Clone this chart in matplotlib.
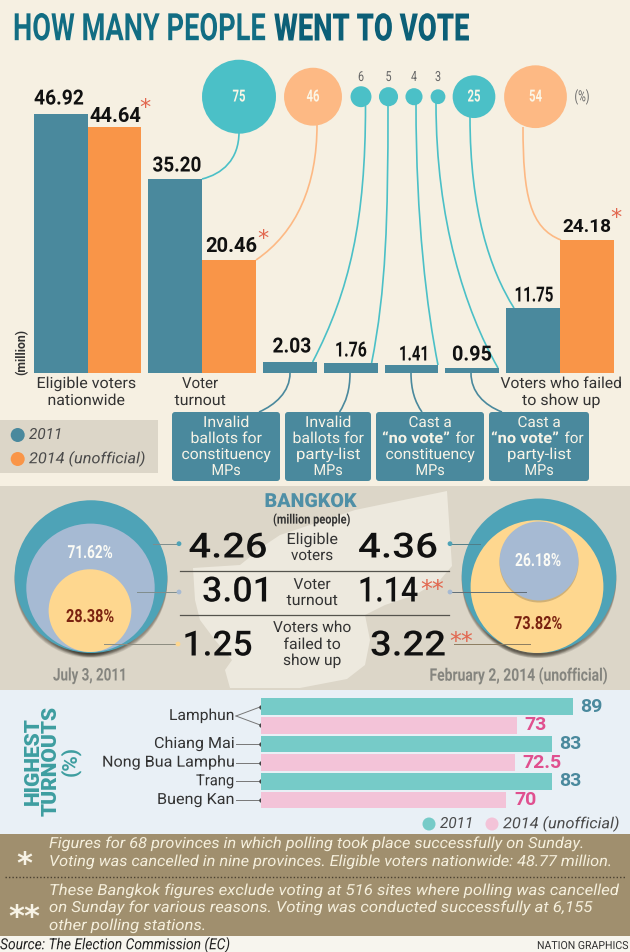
import matplotlib
matplotlib.use('Agg')
import matplotlib.pyplot as plt
import numpy as np
from matplotlib.patches import Circle, Rectangle, PathPatch, Polygon, FancyBboxPatch
from matplotlib.path import Path
from matplotlib.patheffects import AbstractPathEffect
from matplotlib.transforms import Affine2D

# DATA
bar_groups = ['Eligible voters\nnationwide', 'Voter\nturnout', 'inv_c', 'inv_p', 'no_c', 'no_p',
              'Voters who failed\nto show up']
votes_2011 = [46.92, 35.20, 2.03, 1.76, 1.41, 0.95, 11.75]
votes_2014 = [44.64, 20.46, None, None, None, None, 24.18]
box_labels = ['Invalid\nballots for\nconstituency\nMPs', 'Invalid\nballots for\nparty-list\nMPs',
              'Cast a\n\u201cno vote\u201d for\nconstituency\nMPs', 'Cast a\n\u201cno vote\u201d for\nparty-list\nMPs']
bubble_pct = [75, 46, 6, 5, 4, 3, 25, 54]
bubble_year = [2011, 2014, 2011, 2011, 2011, 2011, 2011, 2014]

bkk_labels = ['Eligible\nvoters', 'Voter\nturnout', 'Voters who\nfailed to\nshow up']
bkk_2011 = [4.26, 3.01, 1.25]
bkk_2014 = [4.36, 1.14, 3.22]
bkk_pct_2011 = ['71.62%', '28.38%']
bkk_pct_2014 = ['26.18%', '73.82%']

provinces = ['Lamphun', 'Lamphun', 'Chiang Mai', 'Nong Bua Lamphu', 'Trang', 'Bueng Kan']
turnout = [89, 73, 83, 72.5, 83, 70]
turnout_labels = ['89', '73', '83', '72.5', '83', '70']
turnout_year = [2011, 2014, 2011, 2014, 2011, 2014]

note_1 = ['Figures for 68 provinces in which polling took place successfully on Sunday.',
          'Voting was cancelled in nine provinces. Eligible voters nationwide: 48.77 million.']
note_2 = ['These Bangkok figures exclude voting at 516 sites where polling was cancelled',
          'on Sunday for various reasons. Voting was conducted successfully at 6,155',
          'other polling stations.']

# COLOURS
TEAL = '#4a899d'
ORANGE = '#f99548'
B_TEAL = '#4bc0c7'
B_PEACH = '#fdb984'
RED = '#e2674f'
PX = 952

plt.rcParams['font.family'] = ['Roboto', 'DejaVu Sans']
fig = plt.figure(figsize=(6.3, 9.52), dpi=100, facecolor='#f6f0e2')
renderer = fig.canvas.get_renderer()


class Squeeze(AbstractPathEffect):
    # scales a text around its anchor, the fonts here have no condensed cut
    def __init__(self, sx, x0, sy=1, y0=0):
        super().__init__()
        self.sx = sx
        self.x0 = x0
        self.sy = sy
        self.y0 = y0

    def draw_path(self, renderer, gc, tpath, affine, rgbFace=None):
        affine = affine + Affine2D().translate(-self.x0, -self.y0).scale(self.sx, self.sy).translate(self.x0, self.y0)
        renderer.draw_path(gc, tpath, affine, rgbFace)


# pixel overlay for everything that is not a bar
ov = fig.add_axes([0, 0, 1, 1], zorder=1)
ov.set_xlim(0, 630)
ov.set_ylim(952, 0)
ov.axis('off')
ov.patch.set_alpha(0)


def txt(x, y, s, size, color='#222222', w=None, weight='normal', style='normal', ha='center', rot=0, sy=1, zorder=8):
    t = ov.text(x, y, s, fontsize=size, color=color, fontweight=weight, fontstyle=style,
                ha=ha, va='center', rotation=rot, zorder=zorder, linespacing=1.0)
    if w is not None:
        t.set_path_effects([Squeeze(w / t.get_window_extent(renderer).width, x, sy, PX - y)])
    return t


def star(x, y, s, size, color, weight='normal', zorder=9):
    # the asterisk sits high in its line, so move it down to centre the glyph on y
    return ov.text(x, y + 0.38 * size, s, fontsize=size, color=color, family='DejaVu Sans',
                   fontweight=weight, ha='center', va='center', zorder=zorder)


def curve(p0, c1, c2, p1, color, lw=1.2, zorder=3):
    path = Path([p0, c1, c2, p1], [Path.MOVETO, Path.CURVE4, Path.CURVE4, Path.CURVE4])
    ov.add_patch(PathPatch(path, fc='none', ec=color, lw=lw, zorder=zorder))


# section backgrounds
ov.add_patch(Rectangle((0, 486), 630, 204, fc='#dcd6c8', ec='none', zorder=0))
ov.add_patch(Rectangle((0, 690), 630, 144, fc='#e9f0f6', ec='none', zorder=0))
ov.add_patch(Rectangle((0, 834), 630, 102, fc='#a08f6e', ec='none', zorder=0))
ov.add_patch(Rectangle((0, 936), 630, 16, fc='#f7f5ee', ec='none', zorder=0))

# title, set small and stretched up to the tall condensed look
txt(13, 30, 'HOW MANY PEOPLE', 20, '#126d83', w=252, weight='bold', ha='left', sy=1.36)
txt(274, 30, 'WENT TO VOTE', 19.5, '#0c5f77', w=196, weight='black', ha='left', sy=1.4)

# main bars, 5.52 px per million
ax = fig.add_axes([0, 1 - 373 / PX, 1, 373 / PX], zorder=2)
ax.set_xlim(0, 630)
ax.set_ylim(0, 373 / 5.52)
ax.axis('off')
ax.patch.set_alpha(0)
bar_w = 53.8
gap = 7
left = 33.7
for i in range(len(bar_groups)):
    ax.bar(left + bar_w / 2, votes_2011[i], bar_w, color=TEAL)
    left += bar_w
    if votes_2014[i] is not None:
        ax.bar(left + bar_w / 2, votes_2014[i], bar_w, color=ORANGE)
        left += bar_w
    left += gap

# value labels
val_xy_2011 = [(59, 99), (177, 166), (292, 347), (351, 351), (414, 355), (472, 355), (534, 296)]
val_w_2011 = [50, 49, 39, 32, 30, 40, 39]
for v, (x, y), w in zip(votes_2011, val_xy_2011, val_w_2011):
    txt(x, y, f'{v:.2f}', 15, '#111111', weight='bold', w=w)
val_xy_2014 = {0: (115, 116), 1: (231, 247), 6: (587, 227)}
val_size_2014 = {0: 14.5, 1: 14.5, 6: 13.7}
star_xy = {0: (145, 102), 1: (263, 233), 6: (616, 212)}
for i, (x, y) in val_xy_2014.items():
    txt(x, y, f'{votes_2014[i]:.2f}', val_size_2014[i], '#111111', weight='bold')
    star(star_xy[i][0], star_xy[i][1], '*', 16, RED)

txt(22, 352, '(million)', 8.8, '#333333', weight='bold', rot=90)
txt(86, 384, 'Eligible voters', 11, '#333333', w=99)
txt(86, 401, 'nationwide', 11, '#333333', w=77)
txt(200, 384, 'Voter', 11, '#333333', w=36)
txt(200, 401, 'turnout', 11, '#333333', w=51)
txt(561, 384, 'Voters who failed', 11, '#333333', w=121)
txt(561, 401, 'to show up', 11, '#333333', w=78)

# percent bubbles, area follows the value
bubble_x = [239, 313, 361, 388.5, 414, 438, 474, 535.5]
for p, x, yr in zip(bubble_pct, bubble_x, bubble_year):
    r = 4.27 * np.sqrt(p)
    ov.add_patch(Circle((x, 96.7), r, fc=B_TEAL if yr == 2011 else B_PEACH, ec='none', zorder=4))
    if p > 10:
        txt(x, 97, str(p), 12, '#fbf6e6', w=13, weight='bold')
    else:
        txt(x, 77, str(p), 10, '#666666', w=6)
txt(582, 97, '(%)', 11, '#666666', w=15)

# connectors bubble to bar
curve((239, 132), (239, 160), (222, 174), (202, 179), B_TEAL)
curve((317, 125), (317, 185), (297, 232), (256, 260), B_PEACH)
curve((365.5, 106), (365.5, 220), (350, 290), (312.6, 362), B_TEAL)
curve((388, 105), (388, 220), (386, 290), (371.6, 363), B_TEAL)
curve((416, 104), (416, 220), (427, 310), (438, 365), B_TEAL)
curve((436, 103), (436, 220), (465, 310), (498, 368), B_TEAL)
curve((470, 117), (470, 210), (490, 270), (514, 308), B_TEAL)
curve((523, 127), (523, 195), (530, 228), (561, 240), B_PEACH)

# connectors bar to box
curve((290, 373), (290, 392), (275, 405), (259, 412), TEAL)
curve((350, 373), (350, 390), (346, 402), (339.5, 412), TEAL)
curve((411, 373), (411, 390), (415, 402), (422, 412), TEAL)
curve((471, 373), (471, 392), (484, 405), (502, 412), TEAL)

# boxes
box_x = [(172, 280), (285, 371), (376, 484), (489, 589)]
line_w = {'Invalid': 46, 'ballots for': 71, 'constituency': 89, 'party-list': 64, 'MPs': 29, 'Cast a': 43}
for (x0, x1), label in zip(box_x, box_labels):
    ov.add_patch(FancyBboxPatch((x0 + 3, 415), x1 - x0 - 6, 63, boxstyle='round,pad=3,rounding_size=3',
                                fc=TEAL, ec='none', zorder=4))
    xc = (x0 + x1) / 2
    for j, line in enumerate(label.split('\n')):
        y = 423 + j * 16
        if 'no vote' in line:
            txt(xc - 14, y, '\u201cno vote\u201d', 11, '#f7f3e6', weight='bold', w=68)
            txt(xc + 35, y, 'for', 11, '#f7f3e6', w=19)
        else:
            txt(xc, y, line, 11, '#f7f3e6', w=line_w[line])

# top legend
ov.add_patch(Rectangle((0, 420), 157.5, 53, fc='#dcd6c8', ec='none', zorder=1))
ov.add_patch(Circle((17.7, 435), 7, fc=TEAL, ec='none', zorder=4))
ov.add_patch(Circle((17.7, 459), 7, fc=ORANGE, ec='none', zorder=4))
txt(29, 435, '2011', 11, '#4a4a4a', style='italic', ha='left', w=33)
txt(29, 459, '2014 (unofficial)', 11, '#4a4a4a', style='italic', ha='left', w=116)

# Bangkok map silhouette
bkk_map = [(447, 491), (452, 566), (440, 580), (415, 595), (385, 605), (365, 615), (370, 640), (365, 665),
           (347, 679), (300, 688), (230, 688), (225, 670), (232, 660), (215, 640), (200, 620), (195, 600),
           (193, 568), (240, 565), (265, 545), (280, 535), (355, 510)]
ov.add_patch(Polygon(bkk_map, fc='#ede9de', ec='none', zorder=1))


def disc(x, bottom, value, color):
    r = 37 * np.sqrt(value)
    y = bottom - r
    for k in range(4):
        ov.add_patch(Circle((x, y + 2 + k), r, fc='#1f1a10', alpha=0.12, ec='none', zorder=2))
    ov.add_patch(Circle((x, y), r, fc=color, ec='none', zorder=3))


disc(91, 653, bkk_2011[0], '#4ea3b7')
disc(90.5, 652, bkk_2011[1], '#a6bad3')
disc(90, 652, bkk_2011[2], '#fed78f')
disc(539, 653, bkk_2014[0], '#4ea3b7')
disc(537, 653, bkk_2014[2], '#fed78f')
ov.add_patch(Circle((539, 563), 37 * np.sqrt(bkk_2014[1]), fc='#1f1a10', alpha=0.2, ec='none', zorder=3.5))
ov.add_patch(Circle((539, 561), 37 * np.sqrt(bkk_2014[1]), fc='#a6bad3', ec='none', zorder=3.6))

txt(90, 553, bkk_pct_2011[0], 13, '#fbfbf5', w=45, weight='bold')
txt(90, 617, bkk_pct_2011[1], 13, '#7a2210', w=48, weight='bold')
txt(538, 561, bkk_pct_2014[0], 13, '#fbfbf5', w=46, weight='bold')
txt(538, 624, bkk_pct_2014[1], 13, '#7a2210', w=48, weight='bold')
txt(90, 676, 'July 3, 2011', 12.5, '#85857f', w=74, weight='bold')
txt(519, 676, 'February 2, 2014 (unofficial)', 12.5, '#85857f', w=179, weight='bold')

txt(310.5, 502, 'BANGKOK', 14, '#4f8fa6', w=92, weight='black')
txt(312, 520, '(million people)', 9.5, '#333333', w=78, weight='bold')

left_xy = [(228, 548), (237.5, 592), (217.5, 646)]
right_xy = [(398, 548), (388, 592), (408, 646)]
left_w = [79, 71, 70]
right_w = [80, 60, 76]
for v, (x, y), w in zip(bkk_2011, left_xy, left_w):
    txt(x, y, f'{v:.2f}', 25, '#111111', w=w, weight='medium')
for v, (x, y), w in zip(bkk_2014, right_xy, right_w):
    txt(x, y, f'{v:.2f}', 25, '#111111', w=w, weight='medium')
star(432, 584, '**', 17, RED)
star(461, 636, '**', 17, RED)

label_y = [[540, 556], [585, 601], [628, 645, 661]]
bkk_line_w = {'Eligible': 51, 'voters': 42, 'Voter': 37, 'turnout': 51, 'Voters who': 78, 'failed to': 57, 'show up': 58}
for label, ys in zip(bkk_labels, label_y):
    for line, y in zip(label.split('\n'), ys):
        txt(312, y, line, 11, '#333333', w=bkk_line_w[line])

for y in (570.7, 615.3):
    ov.plot([180, 449], [y, y], color='#55544e', lw=0.9, zorder=5)
ov.plot([153, 179], [543.7, 543.7], color='#7f8d8d', lw=0.7, zorder=5)
ov.plot([137, 179], [592, 592], color='#7f8d8d', lw=0.7, zorder=5)
ov.plot([104, 178], [644, 644], color='#8c8c80', lw=0.7, zorder=5)
ov.plot([450, 480], [543.7, 543.7], color='#4f7d88', lw=0.7, zorder=5)
ov.plot([450, 526], [592, 592], color='#5f6d78', lw=0.7, zorder=5)
ov.plot([454, 530], [644, 644], color='#8c7d60', lw=0.7, zorder=5)
ov.scatter([179, 179, 178, 450, 450], [543.7, 592, 644, 543.7, 592], s=6,
           c=['#4ea3b7', '#a6bad3', '#fed78f', '#4ea3b7', '#a6bad3'], zorder=6)

# highest turnouts, 3.5 px per point
top, bottom = 697.3, 809.3
ax2 = fig.add_axes([261 / 630, 1 - bottom / PX, (630 - 261) / 630, (bottom - top) / PX], zorder=2)
ax2.set_xlim(0, (630 - 261) / 3.5)
ax2.set_ylim(5.5, -0.5)
ax2.axis('off')
ax2.patch.set_alpha(0)
for i, (v, lab, yr) in enumerate(zip(turnout, turnout_labels, turnout_year)):
    ax2.barh(i, v, 0.895, color='#76cbc8' if yr == 2011 else '#f3c3d8')
    ax2.text(v + 2.3, i, lab, fontsize=14, fontweight='bold', va='center', ha='left',
             color='#4a899d' if yr == 2011 else '#e0508f')

row_y = [top + (i + 0.5) * (bottom - top) / 6 for i in range(6)]
txt(234, 716, 'Lamphun', 11, '#333333', ha='right', w=65)
ov.plot([236, 261], [716, row_y[0]], color='#777777', lw=0.7, zorder=5)
ov.plot([236, 261], [716, row_y[1]], color='#777777', lw=0.7, zorder=5)
label_w = {'Chiang Mai': 80, 'Nong Bua Lamphu': 132, 'Trang': 38, 'Bueng Kan': 77}
for i in range(2, 6):
    txt(234, row_y[i], provinces[i], 11, '#333333', ha='right', w=label_w[provinces[i]])
    ov.plot([236, 261], [row_y[i], row_y[i]], color='#777777', lw=0.7, zorder=5)
ov.scatter([261] * 6, row_y, s=5, color='#444444', zorder=6)

txt(33, 761, 'HIGHEST', 15, '#3e9ea0', weight='black', rot=90)
txt(51, 761, 'TURNOUTS', 15, '#3e9ea0', weight='black', rot=90)
txt(70, 761, '(%)', 15, '#3e9ea0', weight='bold', rot=90)

ov.add_patch(Circle((429, 824), 6.5, fc='#76cbc8', ec='none', zorder=4))
ov.add_patch(Circle((492, 824), 6.5, fc='#f3c3d8', ec='none', zorder=4))
txt(440, 824, '2011', 11, '#4a4a4a', style='italic', ha='left', w=33)
txt(503, 824, '2014 (unofficial)', 11, '#4a4a4a', style='italic', ha='left', w=116)

# notes
note_w_1 = [534, 562]
note_w_2 = [569, 542, 157]
for line, y, w in zip(note_1, (844, 862), note_w_1):
    txt(49, y, line, 11, '#f5efdc', style='italic', ha='left', w=w)
ov.plot([5, 625], [877, 877], color='#4a4030', lw=1, ls=(0, (1, 1.5)), zorder=5)
for line, y, w in zip(note_2, (891, 908, 926), note_w_2):
    txt(49, y, line, 11, '#f5efdc', style='italic', ha='left', w=w)
star(24, 856, '*', 22, '#f7f3e6', weight='bold')
star(24, 909, '**', 22, '#f7f3e6', weight='bold')

txt(0, 945, 'Source: The Election Commission (EC)', 11, '#222222', style='italic', ha='left', w=230)
txt(628, 946, 'NATION GRAPHICS', 8, '#333333', ha='right', w=91)

fig.savefig('out.png', dpi=100, facecolor=fig.get_facecolor())
